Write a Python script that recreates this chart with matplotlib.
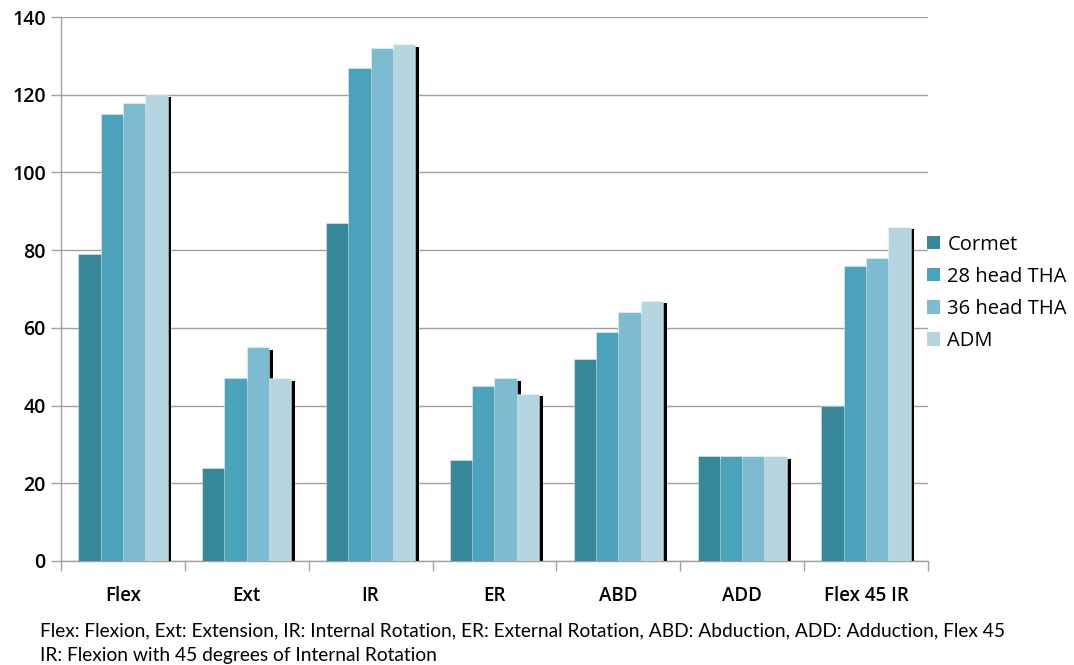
import matplotlib
matplotlib.use("Agg")
import matplotlib.pyplot as plt
import matplotlib.patheffects as pe
from matplotlib.patches import Patch
import numpy as np

categories = ['Flex', 'Ext', 'IR', 'ER', 'ABD', 'ADD', 'Flex 45 IR']
series_names = ['Cormet', '28 head THA', '36 head THA', 'ADM']
cormet = [79, 24, 87, 26, 52, 27, 40]
head28 = [115, 47, 127, 45, 59, 27, 76]
head36 = [118, 55, 132, 47, 64, 27, 78]
adm = [120, 47, 133, 43, 67, 27, 86]
bar_colors = ['#37879a', '#4aa3bb', '#7dbcd0', '#b5d6e1']

footer = ("Flex: Flexion, Ext: Extension, IR: Internal Rotation, ER: External Rotation, "
          "ABD: Abduction, ADD: Adduction, Flex 45\nIR: Flexion with 45 degrees of Internal Rotation")

plt.rcParams['font.family'] = ['Open Sans', 'DejaVu Sans']

fig = plt.figure(figsize=(10.74, 6.65), dpi=100)
ax = fig.add_axes([0.0568, 0.1564, 0.8072, 0.818])

x = np.arange(len(categories))
width = 0.18
shadow = [pe.SimplePatchShadow(offset=(2.8, -1.8), shadow_rgbFace='black', alpha=1.0), pe.Normal()]

for i, vals in enumerate([cormet, head28, head36, adm]):
    bars = ax.bar(x + (i - 1.5) * width, vals, width, color=bar_colors[i],
                  edgecolor=(1, 1, 1, 0.45), linewidth=0.6, zorder=3)
    for b in bars:
        b.set_path_effects(shadow)

ax.set_xlim(-0.5, len(categories) - 0.5)
ax.set_ylim(0, 140)
ax.set_yticks(range(0, 141, 20))
ax.yaxis.grid(True, color='#a0a0a0', linewidth=1.0, zorder=0)
ax.set_axisbelow(True)

ax.set_xticks(x)
ax.set_xticklabels(categories, fontsize=13.5, fontweight='semibold')
ax.set_xticks(np.arange(-0.5, len(categories)), minor=True)
ax.tick_params(axis='x', which='major', length=0, pad=18)
ax.tick_params(axis='x', which='minor', length=7, color='#a0a0a0', width=1)
ax.tick_params(axis='y', length=7, color='#a0a0a0', width=1, labelsize=14, pad=4)
for t in ax.get_yticklabels():
    t.set_fontweight('semibold')

for s in ['top', 'right']:
    ax.spines[s].set_visible(False)
for s in ['left', 'bottom']:
    ax.spines[s].set_color('#a0a0a0')
    ax.spines[s].set_linewidth(1.0)

handles = [Patch(facecolor=c, label=n) for c, n in zip(bar_colors, series_names)]
ax.legend(handles=handles, loc='center left', bbox_to_anchor=(0.99, 0.493), frameon=False,
          fontsize=14.5, handlelength=0.65, handleheight=0.65, handletextpad=0.35,
          labelspacing=0.6, borderaxespad=0.0)

fig.text(40 / 1074, 1 - 622 / 665, footer, fontsize=13.8, family=['Lato', 'DejaVu Sans'],
         va='top', ha='left', linespacing=1.55)

fig.savefig('out.png', dpi=100)
